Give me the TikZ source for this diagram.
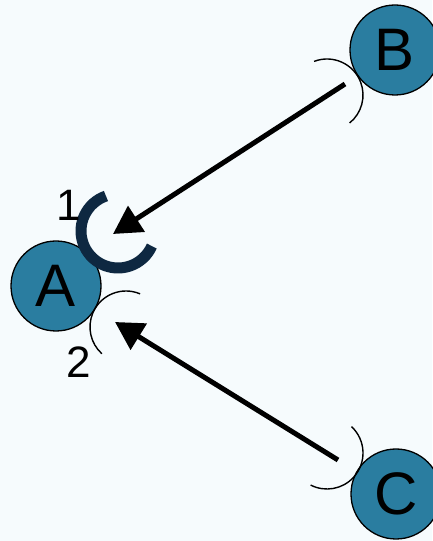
\documentclass[tikz,border=0pt]{standalone}
\usepackage{fontspec}
\setmainfont{Liberation Sans}
\usetikzlibrary{arrows.meta,calc}
\definecolor{bgc}{RGB}{246,251,253}
\definecolor{nodefill}{RGB}{42,125,160}
\definecolor{navy}{RGB}{14,40,65}
\tikzset{
  comp/.style={circle,draw=black,line width=1.3pt,fill=nodefill,minimum size=90pt,inner sep=0pt,font=\fontsize{60}{60}\selectfont},
  flow/.style={line width=5pt,-{Triangle[length=28pt,width=30pt]}},
  thinport/.style={line width=1.4pt,draw=black},
  thickport/.style={line width=11pt,draw=navy},
  lbl/.style={font=\fontsize{44}{44}\selectfont,inner sep=0pt}
}
\begin{document}
\begin{tikzpicture}[x=1pt,y=1pt]
\useasboundingbox[fill=bgc] (0,0) rectangle (432,541);
% components
\node[comp] (A) at (56,255) {A};
\node[comp] (B) at (395,491) {B};
\node[comp] (C) at (396,47) {C};
% port centres
\coordinate (p1) at (118,310);
\coordinate (p2) at (126,214);
\coordinate (pB) at (327,446);
\coordinate (pC) at (327,88);
% port arcs
\draw[thickport] ($(p1)+(109:37pt)$) arc[start angle=109,end angle=336,radius=37pt];
\draw[thinport] ($(p2)+(67:36pt)$) arc[start angle=67,end angle=228,radius=36pt];
\draw[thinport] ($(pB)+(111:36pt)$) arc[start angle=111,end angle=-51,radius=36pt];
\draw[thinport] ($(pC)+(47:36pt)$) arc[start angle=47,end angle=-117,radius=36pt];
% arrow ends
\coordinate (sB) at (345,457);
\coordinate (t1) at (113,307);
\coordinate (sC) at (338,81);
\coordinate (t2) at (115,219);
\draw[flow] (sB) -- (t1);
\draw[flow] (sC) -- (t2);
% labels
\node[lbl] (l1) at (69,336) {1};
\node[lbl] (l2) at (79,179) {2};
\end{tikzpicture}
\end{document}
